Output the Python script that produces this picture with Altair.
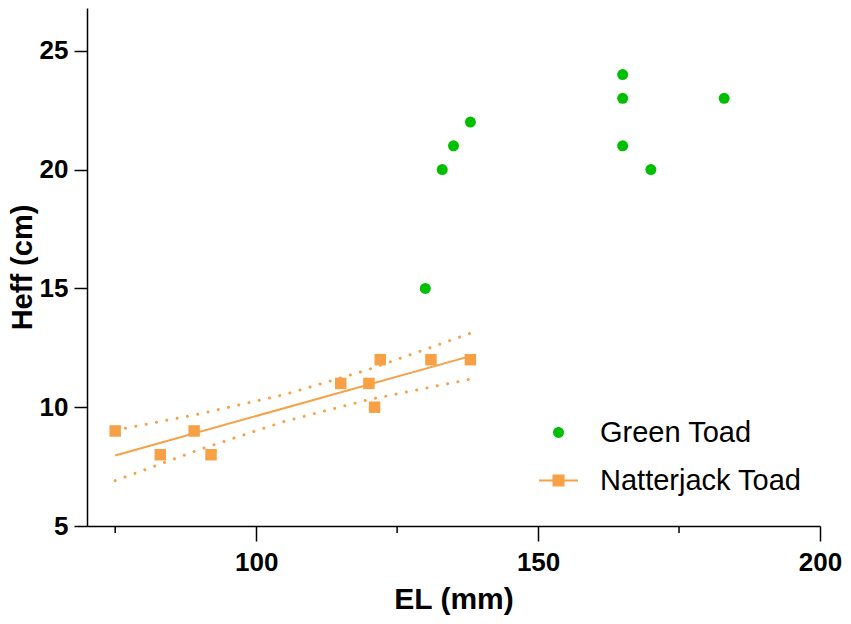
import altair as alt
import pandas as pd

# ---- data ----
green_x = [130, 133, 135, 138, 165, 165, 165, 170, 183]
green_y = [15, 20, 21, 22, 24, 23, 21, 20, 23]

natter_x = [75, 83, 89, 92, 115, 120, 121, 122, 131, 138]
natter_y = [9, 8, 9, 8, 11, 11, 10, 12, 12, 12]

fit_x = [75, 138]
fit_y = [7.97, 12.15]

band_x = [75, 90, 105, 120, 138]
band_upper = [9.03, 9.72, 10.53, 11.59, 13.11]
band_lower = [6.91, 8.22, 9.40, 10.32, 11.18]

x_major = [100, 150, 200]
x_minor = [75, 125, 175]
y_ticks = [5, 10, 15, 20, 25]

species = ["Green Toad", "Natterjack Toad"]

GREEN = "#00BF00"
ORANGE = "#F8A046"
FONT = "Liberation Sans"

green_df = pd.DataFrame({"x": green_x, "y": green_y})
natter_df = pd.DataFrame({"x": natter_x, "y": natter_y})
fit_df = pd.DataFrame({"x": fit_x, "y": fit_y})
upper_df = pd.DataFrame({"x": band_x, "y": band_upper})
lower_df = pd.DataFrame({"x": band_x, "y": band_lower})
minor_df = pd.DataFrame({"x": x_minor})
legend_df = pd.DataFrame({"species": species})

xscale = alt.Scale(domain=[70, 200], nice=False, zero=False)
yscale = alt.Scale(domain=[5, 26.8], nice=False, zero=False)

xaxis = alt.Axis(values=x_major, tickSize=15, tickWidth=1.5, domainWidth=1.5,
                 domainColor="black", tickColor="black", labelColor="black",
                 labelPadding=8, labelFontSize=26, labelFont=FONT, labelFontWeight="bold",
                 title="EL (mm)", titleFontSize=30, titleFont=FONT, titleFontWeight="bold",
                 titleColor="black", titlePadding=9, grid=False, labelFlush=False)
yaxis = alt.Axis(values=y_ticks, tickSize=13, tickWidth=1.5, domainWidth=1.5,
                 domainColor="black", tickColor="black", labelColor="black",
                 labelPadding=6, labelFontSize=26, labelFont=FONT, labelFontWeight="bold",
                 title="Heff (cm)", titleFontSize=29, titleFont=FONT, titleFontWeight="bold",
                 titleColor="black", titlePadding=2, grid=False, labelFlush=False)

X = alt.X("x:Q", scale=xscale, axis=xaxis)
Y = alt.Y("y:Q", scale=yscale, axis=yaxis)

dotted = dict(color=ORANGE, strokeWidth=3, strokeDash=[0.01, 10.5], strokeCap="round")

upper = alt.Chart(upper_df).mark_line(**dotted).encode(x=X, y=Y)
lower = alt.Chart(lower_df).mark_line(**dotted).encode(x=X, y=Y)
fit = alt.Chart(fit_df).mark_line(color=ORANGE, strokeWidth=2).encode(x=X, y=Y)
squares = alt.Chart(natter_df).mark_square(color=ORANGE, size=132, opacity=1).encode(x=X, y=Y)
circles = alt.Chart(green_df).mark_circle(color=GREEN, size=121, opacity=1).encode(x=X, y=Y)

minor = alt.Chart(minor_df).mark_rule(color="black", strokeWidth=1.5).encode(
    x=X, y=alt.value(518), y2=alt.value(525))

# legend symbols (paths in the -1..1 box)
circ_path = "M0.28,0A0.28,0.28,0,1,1,-0.28,0A0.28,0.28,0,1,1,0.28,0Z"
sq_path = "M-1,-0.05H1V0.05H-1ZM-0.31,-0.31H0.31V0.31H-0.31Z"

leg = alt.Legend(title=None, orient="none", legendX=452, legendY=405,
                 symbolSize=1521, symbolStrokeWidth=0, labelFontSize=29, labelFont=FONT,
                 labelFontWeight="normal", labelColor="black", labelOffset=22,
                 rowPadding=13, padding=0, labelLimit=400)

legend_layer = alt.Chart(legend_df).mark_point(filled=True, opacity=1).encode(
    color=alt.Color("species:N", scale=alt.Scale(domain=species, range=[GREEN, ORANGE]), legend=leg),
    shape=alt.Shape("species:N", scale=alt.Scale(domain=species, range=[circ_path, sq_path]), legend=leg),
).transform_filter("false")

chart = alt.layer(upper, lower, fit, squares, circles, minor, legend_layer).properties(
    width=733, height=518,
    background="white",
    autosize=alt.AutoSizeParams(type="none"),
    padding={"left": 79, "top": 0, "right": 23, "bottom": 90},
).configure_view(stroke="transparent", strokeWidth=0)

chart.save("out.html", embed_options={"renderer": "svg", "actions": False})
